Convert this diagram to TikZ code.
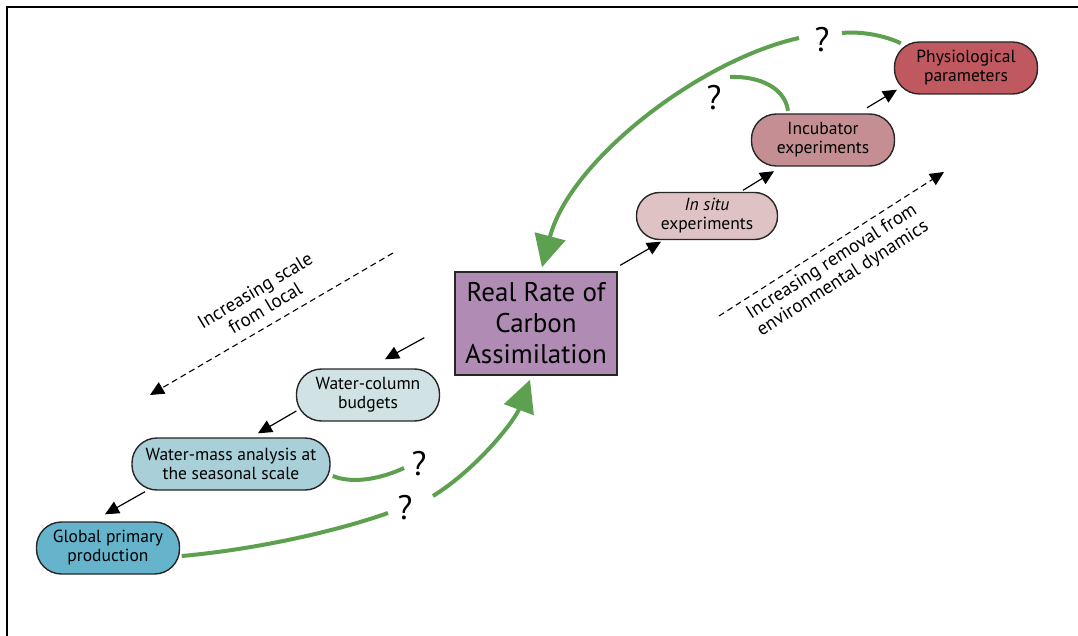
\documentclass[tikz,border=0pt]{standalone}
\usepackage{fontspec}
\setmainfont{PT Sans}
\usetikzlibrary{arrows.meta,calc}
\definecolor{grn}{HTML}{5DA04F}
\definecolor{cphys}{HTML}{C0585F}
\definecolor{cincu}{HTML}{C58E93}
\definecolor{cinsitu}{HTML}{DFC2C3}
\definecolor{crr}{HTML}{B08CB4}
\definecolor{cwc}{HTML}{D0E2E3}
\definecolor{cwm}{HTML}{A9CFD8}
\definecolor{cgpp}{HTML}{66B4CB}
\begin{document}
\begin{tikzpicture}[x=1pt,y=-1pt,
  pill/.style={draw=black!85, line width=1.4pt, rounded corners=25pt, minimum height=52pt,
    minimum width=143pt, align=center, inner sep=0pt,
    font=\fontsize{17.5}{19}\selectfont},
  mainbox/.style={draw=black!85, line width=1.4pt, fill=crr, minimum width=162pt,
    minimum height=103pt, align=center, inner sep=0pt,
    font=\fontsize{27}{31}\selectfont},
  blk/.style={line width=1.2pt, -{Triangle[length=14pt,width=13pt]}},
  dsh/.style={line width=1.1pt, dash pattern=on 6pt off 4pt, -{Triangle[length=14pt,width=13pt]}},
  grline/.style={draw=grn, line width=4pt},
  grarrow/.style={draw=grn, line width=4pt, -{Triangle[length=32pt,width=31pt]}},
  qm/.style={inner sep=0pt, font=\fontsize{34}{34}\selectfont},
  lbl/.style={inner sep=0pt, font=\fontsize{19}{19}\selectfont}
]
\useasboundingbox (0,0) rectangle (1078,636);
\draw[line width=2.5pt] (7,636) -- (7,7) -- (1078,7);

% nodes
\node[pill, fill=cphys] (phys) at (966,68) {Physiological\\parameters};
\node[pill, fill=cincu] (incu) at (823,140) {Incubator\\experiments};
\node[pill, fill=cinsitu, minimum height=47pt, minimum width=141pt, rounded corners=23pt] (insitu) at (707,216) {\textit{In situ}\\experiments};
\node[mainbox] (rr) at (536,323.5) {Real Rate of\\Carbon\\Assimilation};
\node[pill, fill=cwc] (wc) at (368,395) {Water-column\\budgets};
\node[pill, fill=cwm, minimum width=198pt] (wm) at (231,464) {Water-mass analysis at\\the seasonal scale};
\node[pill, fill=cgpp] (gpp) at (108,548) {Global primary\\production};

% question marks
\node[qm] (q1) at (822,40) {?};
\node[qm] (q2) at (714,98) {?};
\node[qm] (q3) at (419,464) {?};
\node[qm] (q4) at (405,508) {?};

% black arrows
\draw[blk] ($(rr.north east)+(2.5,-6)$) -- ($(insitu.south)+(-46,1.5)$);
\draw[blk] ($(insitu.north)+(36,-1.5)$) -- ($(incu.south)+(-49,4.5)$);
\draw[blk] ($(incu.north)+(44,-5.5)$) -- ($(phys.south)+(-69,-5)$);
\draw[blk] ($(rr.south west)+(-30,-38)$) -- ($(wc.north)+(17,-9)$);
\draw[blk] ($(wc.west)+(0.5,16)$) -- ($(wm.north)+(27,-4)$);
\draw[blk] ($(wm.south)+(-86,1)$) -- ($(gpp.north)+(-3,-7)$);

% dashed arrows and labels
\coordinate (d1s) at (393,253);
\coordinate (d1e) at (150,395);
\coordinate (d2s) at (719,316);
\coordinate (d2e) at (944,172);
\draw[dsh] (d1s) -- (d1e);
\draw[dsh] (d2s) -- (d2e);
\node[lbl, rotate=31] (l1a) at (256,292) {Increasing scale};
\node[lbl, rotate=31] (l1b) at (265,308) {from local};
\node[lbl, rotate=32.5] (l2a) at (832,262) {Increasing removal from};
\node[lbl, rotate=32.5] (l2b) at (843,279) {environmental dynamics};

% green connectors
\draw[grline] ($(phys.north west)+(7,2)$) .. controls (886,36) and (862,31) .. ($(q1)+(20,-7)$);
\draw[grarrow] ($(q1)+(-23,-2)$) .. controls (700,60) and (570,160) .. ($(rr.north)+(6,-4)$);
\draw[grline] ($(incu.north)+(-35,-2.5)$) .. controls (785,88) and (760,76) .. ($(q2)+(16,-21)$);
\draw[grline] ($(wm.east)+(2,12)$) .. controls (355,485) and (385,477) .. ($(q3)+(-15,4)$);
\draw[grline] ($(gpp.east)+(1.5,8)$) .. controls (260,549) and (340,530) .. ($(q4)+(-17,5)$);
\draw[grarrow] ($(q4)+(28,-12)$) .. controls (478,468) and (515,420) .. ($(rr.south)+(-6,4)$);
\end{tikzpicture}
\end{document}
